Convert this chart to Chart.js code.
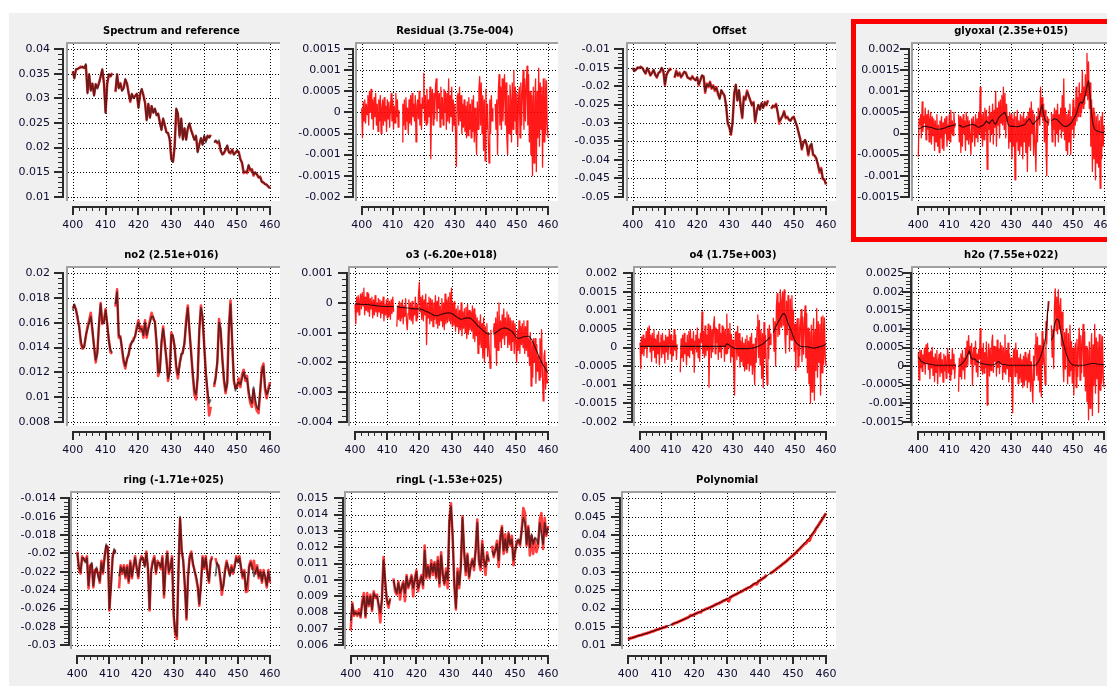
<!DOCTYPE html>
<html><head><meta charset="utf-8">
<script src="https://cdn.jsdelivr.net/npm/chart.js"></script>
<style>
html,body{margin:0;padding:0;width:1107px;height:686px;overflow:hidden;background:#ffffff;}
#bg{position:absolute;left:9px;top:13px;width:1098px;height:673px;background:#f0f0f0;}
canvas{position:absolute;z-index:1;}
#sel{position:absolute;left:851px;top:19px;width:270px;height:223px;border:5px solid #ff0000;box-sizing:border-box;z-index:5;}
</style></head><body>
<div id="bg"></div>
<div id="sel"></div>
<script>
// ---------- wavelength grids (nm) ----------
const WL_HALF = Array.from({length:121}, (_, i) => 400 + i * 0.5);
const WL_QUARTER = Array.from({length:241}, (_, i) => 400 + i * 0.25);
const WL_ONE = Array.from({length:61}, (_, i) => 400 + i);
const X_TICKS = [400, 410, 420, 430, 440, 450, 460];

// ---------- tick values (also used as tick labels) ----------
const TICKS_SPECTRUM = [0.01, 0.015, 0.02, 0.025, 0.03, 0.035, 0.04];
const TICKS_RESIDUAL = [-0.002, -0.0015, -0.001, -0.0005, 0, 0.0005, 0.001, 0.0015];
const TICKS_OFFSET = [-0.05, -0.045, -0.04, -0.035, -0.03, -0.025, -0.02, -0.015, -0.01];
const TICKS_GLYOXAL = [-0.0015, -0.001, -0.0005, 0, 0.0005, 0.001, 0.0015, 0.002];
const TICKS_NO2 = [0.008, 0.01, 0.012, 0.014, 0.016, 0.018, 0.02];
const TICKS_O3 = [-0.004, -0.003, -0.002, -0.001, 0, 0.001];
const TICKS_O4 = [-0.002, -0.0015, -0.001, -0.0005, 0, 0.0005, 0.001, 0.0015, 0.002];
const TICKS_H2O = [-0.0015, -0.001, -0.0005, 0, 0.0005, 0.001, 0.0015, 0.002, 0.0025];
const TICKS_RING = [-0.03, -0.028, -0.026, -0.024, -0.022, -0.02, -0.018, -0.016, -0.014];
const TICKS_RINGL = [0.006, 0.007, 0.008, 0.009, 0.01, 0.011, 0.012, 0.013, 0.014, 0.015];
const TICKS_POLY = [0.01, 0.015, 0.02, 0.025, 0.03, 0.035, 0.04, 0.045, 0.05];

// ---------- series (0.5 nm grid unless noted) ----------
const spectrumMeasured = [
 .0355,.0342,.0358,.036,.0362,.0365,.0363,.0362,.0368,.0312,.0348,.0318,.033,.0307,.0328,.0322,.0332,.0345,.0358,.0332,
 .0272,.033,.0348,.0345,.0352,null,.0313,.0348,.0322,.0331,.0317,.0322,.0338,.0331,.0312,.0293,.0308,.0302,.0305,.0309,
 .0282,.0308,.0318,.0307,.0292,.0257,.0288,.0262,.0284,.0272,.0278,.0267,.0268,.0252,.0237,.0258,.0246,.0232,.0229,.0218,
 .0177,.0172,.0202,.0278,.0268,.0225,.0258,.0218,.0238,.0217,.0238,.0248,.0236,.0227,.0217,.0223,.0192,.0207,.0218,.0207,
 .0222,.0215,.0223,.0221,.0226,null,.0212,.0213,.0209,.021,.0193,.0187,.0188,.0196,.0203,.0191,.0188,.0196,.0187,.0189,
 .0193,.0191,.0177,.0168,.0148,.0151,.0148,.0163,.0153,.0156,.0143,.0149,.0146,.0139,.0141,.0131,.0128,.0126,.0124,.0121,
 .0117];
const spectrumReference = [
 .0355,.034,.036,.036,.0362,.0363,.0365,.0362,.037,.031,.035,.0315,.033,.0305,.033,.032,.033,.0345,.036,.033,
 .027,.033,.035,.0345,.035,null,.0315,.035,.032,.033,.0315,.032,.034,.033,.031,.0295,.031,.030,.0305,.031,
 .028,.031,.032,.0305,.029,.0255,.029,.026,.0285,.027,.028,.0265,.027,.025,.0235,.026,.0245,.023,.023,.0215,
 .0175,.017,.020,.028,.027,.022,.026,.0215,.024,.0215,.024,.025,.0235,.0225,.0215,.0225,.019,.0205,.022,.0205,
 .0225,.021,.0225,.022,.0225,null,.021,.0215,.021,.0215,.0195,.0185,.019,.0195,.0205,.019,.019,.0195,.0185,.019,
 .0195,.019,.0175,.017,.015,.015,.015,.0165,.0155,.0155,.0145,.015,.0145,.014,.014,.013,.013,.0125,.0125,.012,
 .0118];

// residual, 0.25 nm grid
const residual = [
 10e-5,-60e-5,25e-5,-20e-5, 30e-5,-25e-5,20e-5,-5e-5, 40e-5,-30e-5,50e-5,0, 55e-5,-15e-5,30e-5,-40e-5, 35e-5,-10e-5,45e-5,-30e-5,
 20e-5,-45e-5,30e-5,-20e-5, 40e-5,-50e-5,10e-5,30e-5, -30e-5,35e-5,-20e-5,15e-5, -45e-5,30e-5,-15e-5,25e-5, -35e-5,10e-5,45e-5,-20e-5,
 30e-5,-40e-5,15e-5,-25e-5, 45e-5,-10e-5,30e-5,-35e-5, 5e-5,null,null,null, -70e-5,20e-5,-30e-5,30e-5, -40e-5,35e-5,-20e-5,10e-5,
 -50e-5,30e-5,-25e-5,40e-5, -30e-5,45e-5,-10e-5,20e-5, -20e-5,40e-5,-70e-5,15e-5, 30e-5,-15e-5,50e-5,-30e-5, 20e-5,-40e-5,35e-5,10e-5,
 93e-5,-20e-5,40e-5,-30e-5, 55e-5,-25e-5,30e-5,-10e-5, 60e-5,-110e-5,20e-5,55e-5, -30e-5,45e-5,-15e-5,60e-5, 80e-5,-20e-5,50e-5,10e-5,
 45e-5,-35e-5,60e-5,-15e-5, 35e-5,-30e-5,55e-5,0, 50e-5,-40e-5,45e-5,-20e-5, 80e-5,-25e-5,40e-5,-10e-5, 60e-5,-45e-5,30e-5,-30e-5,
 20e-5,-60e-5,-128e-5,40e-5, 45e-5,-30e-5,60e-5,-20e-5, 40e-5,-50e-5,20e-5,-35e-5, 30e-5,-45e-5,15e-5,-60e-5, 25e-5,-55e-5,35e-5,-40e-5,
 20e-5,-60e-5,30e-5,-45e-5, 40e-5,-70e-5,10e-5,-50e-5, -100e-5,25e-5,-40e-5,55e-5, 85e-5,-30e-5,70e-5,-50e-5, 40e-5,-90e-5,30e-5,-115e-5,
 55e-5,-40e-5,20e-5,-60e-5, -120e-5,30e-5,-50e-5,40e-5, -20e-5,10e-5,null,null, 20e-5,-40e-5,30e-5,-100e-5, 50e-5,90e-5,-30e-5,60e-5,
 -40e-5,80e-5,-20e-5,50e-5, 90e-5,-30e-5,70e-5,-60e-5, -100e-5,40e-5,-50e-5,65e-5, 30e-5,-70e-5,70e-5,-40e-5, 100e-5,-20e-5,60e-5,-50e-5,
 45e-5,-80e-5,30e-5,60e-5, -60e-5,70e-5,-30e-5,50e-5, 100e-5,-40e-5,80e-5,-20e-5, 60e-5,110e-5,-30e-5,90e-5, -70e-5,50e-5,-100e-5,40e-5,
 -150e-5,60e-5,-120e-5,30e-5, 80e-5,-140e-5,50e-5,-60e-5, 105e-5,-80e-5,70e-5,-40e-5, 60e-5,-130e-5,80e-5,-70e-5, 80e-5,-50e-5,75e-5,-30e-5,
 -60e-5];

const offsetMeasured = [
 -.0152,-.0158,-.0156,-.0149,-.0151,-.0147,-.0151,-.0158,-.0166,-.0152,-.0159,-.0171,-.0163,-.0157,-.0169,-.0177,-.0164,-.0162,-.0151,-.0158,
 -.0197,-.0169,-.0161,-.0153,-.0157,null,-.0178,-.0158,-.0172,-.0163,-.0176,-.0168,-.0162,-.0163,-.0177,-.0178,-.0182,-.0173,-.0181,-.0183,
 -.0177,-.0198,-.0183,-.0172,-.0173,-.0218,-.0193,-.0203,-.0188,-.0207,-.0198,-.0213,-.0203,-.0223,-.0233,-.0212,-.0218,-.0227,-.0252,-.0302,
 -.0312,-.0332,-.0298,-.0222,-.0197,-.0238,-.0212,-.0252,-.0287,-.0228,-.0237,-.0212,-.0227,-.0238,-.0252,-.0243,-.0298,-.0268,-.0252,-.0263,
 -.0247,-.0258,-.0243,-.0252,-.0238,null,-.0262,-.0253,-.0257,-.0248,-.0272,-.0302,-.0288,-.0282,-.0268,-.0287,-.0283,-.0292,-.0293,-.0287,
 -.0283,-.0297,-.0308,-.0327,-.0343,-.0372,-.0352,-.0347,-.0358,-.0388,-.0362,-.0358,-.0387,-.0388,-.0398,-.0412,-.0435,-.0422,-.0452,-.0453,
 -.0467];
const offsetFitted = [
 -.015,-.016,-.0155,-.015,-.015,-.0148,-.015,-.016,-.0165,-.015,-.016,-.017,-.0165,-.0155,-.017,-.0175,-.0165,-.016,-.015,-.016,
 -.0195,-.017,-.016,-.0155,-.0155,null,-.0175,-.016,-.017,-.0165,-.0175,-.017,-.016,-.0165,-.0175,-.018,-.018,-.0175,-.018,-.0185,
 -.0175,-.0195,-.0185,-.017,-.0175,-.0215,-.0195,-.020,-.019,-.0205,-.020,-.021,-.0205,-.022,-.0235,-.021,-.022,-.0225,-.0255,-.030,
 -.031,-.033,-.030,-.022,-.0195,-.024,-.021,-.0255,-.0285,-.023,-.0235,-.0215,-.0225,-.024,-.025,-.0245,-.0295,-.027,-.025,-.0265,
 -.0245,-.026,-.0245,-.025,-.024,null,-.026,-.0255,-.0255,-.025,-.027,-.0295,-.029,-.028,-.027,-.0285,-.0285,-.029,-.0295,-.0285,
 -.0285,-.0295,-.031,-.0325,-.0345,-.037,-.0355,-.0345,-.036,-.0385,-.0365,-.0355,-.0385,-.039,-.0395,-.0415,-.043,-.0425,-.045,-.0455,
 -.0465];

// glyoxal measured, 0.25 nm grid
const glyoxalMeasured = [
 -55e-5,35e-5,20e-5,45e-5, -10e-5,75e-5,5e-5,40e-5, 25e-5,60e-5,-15e-5,45e-5, 10e-5,55e-5,-20e-5,35e-5, 50e-5,-25e-5,40e-5,-5e-5,
 35e-5,-40e-5,30e-5,-20e-5, 45e-5,-30e-5,20e-5,-45e-5, 30e-5,-10e-5,40e-5,-35e-5, 25e-5,-40e-5,35e-5,0, 40e-5,-30e-5,20e-5,-15e-5,
 45e-5,-20e-5,55e-5,0, 30e-5,-5e-5,50e-5,15e-5, 25e-5,null,null,null, 45e-5,-20e-5,40e-5,-45e-5, 35e-5,-30e-5,45e-5,0,
 30e-5,-40e-5,50e-5,-15e-5, 40e-5,-25e-5,30e-5,-10e-5, -50e-5,35e-5,-20e-5,40e-5, 20e-5,-30e-5,45e-5,-10e-5, 35e-5,-20e-5,50e-5,0,
 110e-5,-10e-5,45e-5,-30e-5, 50e-5,-15e-5,60e-5,5e-5, 55e-5,-85e-5,40e-5,10e-5, 65e-5,-20e-5,50e-5,0, 70e-5,-25e-5,55e-5,15e-5,
 100e-5,-30e-5,60e-5,20e-5, 75e-5,-10e-5,80e-5,25e-5, 90e-5,20e-5,110e-5,10e-5, 95e-5,-10e-5,70e-5,30e-5, 40e-5,-35e-5,50e-5,-20e-5,
 45e-5,-60e-5,35e-5,-30e-5, 50e-5,-110e-5,40e-5,-20e-5, 55e-5,-40e-5,30e-5,-50e-5, 45e-5,-30e-5,40e-5,-60e-5, 50e-5,-20e-5,35e-5,-45e-5,
 40e-5,-90e-5,50e-5,-30e-5, 60e-5,-40e-5,75e-5,0, 55e-5,-50e-5,45e-5,-30e-5, -90e-5,40e-5,-20e-5,60e-5, 50e-5,20e-5,110e-5,40e-5,
 85e-5,30e-5,70e-5,-20e-5, 55e-5,-30e-5,-100e-5,40e-5, 20e-5,35e-5,null,null, 50e-5,-20e-5,45e-5,10e-5, 60e-5,-30e-5,55e-5,0,
 70e-5,-20e-5,45e-5,10e-5, 60e-5,-10e-5,90e-5,5e-5, 130e-5,-15e-5,60e-5,-40e-5, 45e-5,-50e-5,55e-5,-20e-5, 70e-5,-50e-5,40e-5,10e-5,
 80e-5,-10e-5,60e-5,20e-5, 110e-5,30e-5,85e-5,40e-5, 120e-5,40e-5,95e-5,50e-5, 150e-5,60e-5,110e-5,70e-5, 140e-5,90e-5,190e-5,80e-5,
 170e-5,60e-5,120e-5,-30e-5, 80e-5,-90e-5,60e-5,-60e-5, 50e-5,-110e-5,40e-5,-70e-5, 45e-5,-80e-5,30e-5,-130e-5, 40e-5,-60e-5,50e-5,-30e-5,
 20e-5];
const glyoxalFitted = [
 10e-5,12e-5,14e-5,16e-5,17e-5,17e-5,16e-5,15e-5,15e-5,14e-5,12e-5,11e-5,10e-5,10e-5,10e-5,11e-5,12e-5,13e-5,14e-5,16e-5,
 17e-5,18e-5,19e-5,20e-5,20e-5,null,20e-5,19e-5,16e-5,15e-5,16e-5,18e-5,19e-5,20e-5,21e-5,22e-5,21e-5,19e-5,16e-5,15e-5,
 16e-5,18e-5,20e-5,24e-5,30e-5,26e-5,24e-5,30e-5,33e-5,25e-5,22e-5,30e-5,38e-5,42e-5,45e-5,48e-5,50e-5,40e-5,22e-5,18e-5,
 17e-5,17e-5,17e-5,16e-5,16e-5,17e-5,18e-5,19e-5,20e-5,22e-5,28e-5,32e-5,35e-5,28e-5,22e-5,25e-5,30e-5,33e-5,36e-5,55e-5,
 68e-5,45e-5,32e-5,28e-5,25e-5,null,30e-5,33e-5,35e-5,34e-5,32e-5,28e-5,24e-5,20e-5,18e-5,17e-5,17e-5,19e-5,22e-5,26e-5,
 32e-5,38e-5,45e-5,58e-5,70e-5,75e-5,72e-5,80e-5,95e-5,112e-5,125e-5,90e-5,45e-5,20e-5,10e-5,7e-5,5e-5,4e-5,3e-5,3e-5,
 2e-5];

const no2Measured = [
 .0172,.0174,.0171,.0163,.0157,.0143,.0139,.0141,.0149,.0157,.0162,.0168,.0153,.0141,.0128,.0137,.0158,.0176,.0159,.0162,
 .0171,.0158,.0146,.0136,.0135,null,.0173,.0187,.0148,.0149,.0138,.0128,.0123,.0131,.0134,.0142,.0144,.0147,.0149,.0157,
 .0162,.0153,.0157,.0148,.0162,.0148,.0156,.0162,.0168,.0163,.0161,.0143,.0117,.0122,.0143,.0157,.0143,.0131,.0113,.0122,
 .0152,.0148,.0141,.0123,.0115,.0127,.0133,.0137,.0143,.0162,.0174,.0153,.0137,.0118,.0102,.0098,.0117,.0153,.0174,.0163,
 .0142,.0118,.0103,.0085,.0092,null,.0108,.0117,.0128,.0163,.0153,.0132,.0113,.0103,.0112,.0158,.0178,.0143,.0113,.0107,
 .0108,.0115,.0108,.0118,.0122,.0113,.0117,.0103,.0095,.0092,.0106,.0094,.0089,.0087,.0103,.0123,.0127,.0106,.0099,.0107,
 .0112];
const no2Fitted = [
 .017,.0175,.017,.0165,.0155,.0145,.014,.014,.015,.0155,.016,.0165,.0155,.014,.013,.0135,.016,.0175,.016,.016,
 .017,.016,.0145,.0138,.0136,null,.0175,.0185,.015,.0148,.014,.013,.0125,.013,.0135,.014,.0145,.0145,.015,.0155,
 .016,.0155,.0155,.015,.016,.015,.0155,.016,.0165,.0165,.016,.0145,.012,.012,.0145,.0155,.0145,.013,.0115,.012,
 .015,.015,.014,.0125,.0118,.0125,.0135,.0135,.0145,.016,.0172,.0155,.0135,.012,.0105,.0102,.0115,.0155,.0172,.0165,
 .014,.012,.0105,.0095,.0098,null,.011,.0115,.013,.016,.0155,.013,.0115,.0105,.011,.0155,.0175,.0145,.0115,.0105,
 .011,.0112,.011,.0115,.012,.0115,.0115,.0105,.0098,.0095,.0108,.0098,.0092,.009,.0105,.012,.0125,.0108,.0102,.0105,
 .011];

// o3 measured, 0.25 nm grid
const o3Measured = [
 -5e-5,-70e-5,20e-5,-30e-5, 25e-5,-40e-5,10e-5,30e-5, -20e-5,35e-5,-10e-5,50e-5, -40e-5,20e-5,-25e-5,35e-5, -30e-5,30e-5,-45e-5,15e-5,
 -20e-5,20e-5,-50e-5,10e-5, -40e-5,25e-5,-30e-5,0, -45e-5,15e-5,-30e-5,10e-5, -50e-5,5e-5,-35e-5,20e-5, -60e-5,-5e-5,-40e-5,10e-5,
 -50e-5,15e-5,-45e-5,5e-5, -55e-5,10e-5,-35e-5,20e-5, -30e-5,null,null,null, -80e-5,-10e-5,-55e-5,5e-5, -60e-5,0,-50e-5,10e-5,
 -70e-5,-10e-5,-45e-5,15e-5, -60e-5,-90e-5,-35e-5,10e-5, -55e-5,0,-60e-5,5e-5, -70e-5,-15e-5,-40e-5,20e-5, -60e-5,-5e-5,-50e-5,30e-5,
 70e-5,-30e-5,20e-5,-55e-5, 25e-5,-60e-5,10e-5,-40e-5, 30e-5,-140e-5,0,-50e-5, 20e-5,-70e-5,15e-5,-60e-5, 10e-5,-80e-5,0,-55e-5,
 25e-5,-70e-5,5e-5,-85e-5, 20e-5,-75e-5,-10e-5,-60e-5, 15e-5,-80e-5,0,-90e-5, 30e-5,-70e-5,10e-5,-65e-5, 20e-5,-60e-5,35e-5,-70e-5,
 50e-5,-80e-5,0,-75e-5, 5e-5,-95e-5,-20e-5,-80e-5, -10e-5,-100e-5,-25e-5,-90e-5, 0,-110e-5,-30e-5,-85e-5, -20e-5,-100e-5,-15e-5,-120e-5,
 -5e-5,-105e-5,-25e-5,-90e-5, -30e-5,-95e-5,-10e-5,-120e-5, -20e-5,-130e-5,-40e-5,-110e-5, -50e-5,-170e-5,-60e-5,-140e-5, -40e-5,-150e-5,-70e-5,-185e-5,
 -50e-5,-200e-5,-80e-5,-150e-5, -70e-5,-180e-5,-100e-5,-160e-5, -220e-5,-90e-5,null,null, -100e-5,-70e-5,-150e-5,-50e-5, -210e-5,-30e-5,-160e-5,0,
 -130e-5,-60e-5,-150e-5,-40e-5, -120e-5,-20e-5,-140e-5,-50e-5, -110e-5,-30e-5,-150e-5,-40e-5, -140e-5,-50e-5,-160e-5,-60e-5, -130e-5,-60e-5,-170e-5,-70e-5,
 -70e-5,-200e-5,-90e-5,-160e-5, -60e-5,-170e-5,-80e-5,-140e-5, -70e-5,-150e-5,-60e-5,-170e-5, -80e-5,-160e-5,-60e-5,-180e-5, -120e-5,-210e-5,-100e-5,-280e-5,
 -130e-5,-250e-5,-120e-5,-200e-5, -120e-5,-270e-5,-140e-5,-230e-5, -180e-5,-260e-5,-120e-5,-250e-5, -90e-5,-230e-5,-330e-5,-180e-5, -160e-5,-290e-5,-200e-5,-270e-5,
 -260e-5];
const o3Fitted = [
 -3e-5,-3e-5,-4e-5,-4e-5,-5e-5,-5e-5,-5e-5,-5e-5,-5e-5,-6e-5,-7e-5,-8e-5,-8e-5,-9e-5,-10e-5,-10e-5,-11e-5,-11e-5,-12e-5,-12e-5,
 -12e-5,-12e-5,-12e-5,-12e-5,-12e-5,null,-12e-5,-13e-5,-14e-5,-15e-5,-15e-5,-16e-5,-17e-5,-17e-5,-18e-5,-19e-5,-19e-5,-20e-5,-20e-5,-20e-5,
 -20e-5,-21e-5,-22e-5,-25e-5,-28e-5,-30e-5,-32e-5,-35e-5,-38e-5,-41e-5,-43e-5,-43e-5,-42e-5,-40e-5,-38e-5,-36e-5,-35e-5,-34e-5,-33e-5,-34e-5,
 -35e-5,-38e-5,-42e-5,-46e-5,-50e-5,-53e-5,-55e-5,-54e-5,-52e-5,-51e-5,-50e-5,-51e-5,-52e-5,-57e-5,-62e-5,-68e-5,-75e-5,-80e-5,-85e-5,-90e-5,
 -95e-5,-99e-5,-103e-5,-104e-5,-105e-5,null,-105e-5,-102e-5,-98e-5,-94e-5,-90e-5,-87e-5,-85e-5,-84e-5,-85e-5,-87e-5,-90e-5,-94e-5,-98e-5,-106e-5,
 -115e-5,-118e-5,-120e-5,-118e-5,-115e-5,-114e-5,-113e-5,-112e-5,-112e-5,-117e-5,-125e-5,-137e-5,-150e-5,-162e-5,-175e-5,-188e-5,-200e-5,-209e-5,-218e-5,-227e-5,
 -235e-5];

// o4 measured, 0.25 nm grid
const o4Measured = [
 13e-5,-57e-5,28e-5,-17e-5, 33e-5,-22e-5,23e-5,-2e-5, 43e-5,-27e-5,53e-5,3e-5, 58e-5,-12e-5,33e-5,-37e-5, 38e-5,-7e-5,48e-5,-27e-5,
 23e-5,-42e-5,33e-5,-17e-5, 43e-5,-47e-5,13e-5,33e-5, -27e-5,38e-5,-17e-5,18e-5, -42e-5,33e-5,-12e-5,28e-5, -32e-5,13e-5,48e-5,-17e-5,
 33e-5,-37e-5,18e-5,-22e-5, 48e-5,-7e-5,33e-5,-32e-5, 8e-5,null,null,null, -67e-5,23e-5,-27e-5,33e-5, -37e-5,38e-5,-17e-5,13e-5,
 -47e-5,33e-5,-22e-5,43e-5, -27e-5,48e-5,-7e-5,23e-5, -17e-5,43e-5,-67e-5,18e-5, 33e-5,-12e-5,53e-5,-27e-5, 23e-5,-37e-5,38e-5,13e-5,
 96e-5,-17e-5,43e-5,-27e-5, 58e-5,-22e-5,33e-5,-7e-5, 63e-5,-107e-5,23e-5,58e-5, -27e-5,48e-5,-12e-5,63e-5, 83e-5,-17e-5,53e-5,13e-5,
 48e-5,-32e-5,63e-5,-12e-5, 38e-5,-27e-5,58e-5,3e-5, 53e-5,-37e-5,48e-5,-17e-5, 90e-5,-15e-5,50e-5,0, 65e-5,-40e-5,35e-5,-25e-5,
 20e-5,-60e-5,-128e-5,40e-5, 42e-5,-33e-5,57e-5,-23e-5, 37e-5,-53e-5,17e-5,-38e-5, 27e-5,-48e-5,12e-5,-63e-5, 22e-5,-58e-5,32e-5,-43e-5,
 17e-5,-63e-5,27e-5,-48e-5, 38e-5,-72e-5,9e-5,-51e-5, -100e-5,25e-5,-40e-5,55e-5, 88e-5,-27e-5,73e-5,-47e-5, 47e-5,-83e-5,37e-5,-108e-5,
 67e-5,-28e-5,32e-5,-48e-5, -100e-5,50e-5,-30e-5,60e-5, 8e-5,38e-5,null,null, 80e-5,-10e-5,70e-5,-50e-5, 110e-5,145e-5,30e-5,120e-5,
 35e-5,155e-5,55e-5,125e-5, 150e-5,60e-5,155e-5,30e-5, -15e-5,125e-5,35e-5,140e-5, 90e-5,-10e-5,130e-5,20e-5, 140e-5,20e-5,100e-5,-10e-5,
 63e-5,-62e-5,48e-5,78e-5, -52e-5,78e-5,-22e-5,58e-5, 102e-5,-38e-5,82e-5,-18e-5, 62e-5,112e-5,-28e-5,92e-5, -68e-5,52e-5,-98e-5,42e-5,
 -150e-5,60e-5,-120e-5,30e-5, 78e-5,-142e-5,48e-5,-62e-5, 105e-5,-80e-5,70e-5,-40e-5, 62e-5,-128e-5,82e-5,-68e-5, 85e-5,-45e-5,80e-5,-25e-5,
 -50e-5];
const o4Fitted = [
 3e-5,3e-5,3e-5,3e-5,3e-5,3e-5,3e-5,3e-5,3e-5,3e-5,3e-5,3e-5,3e-5,3e-5,3e-5,3e-5,3e-5,3e-5,3e-5,3e-5,
 3e-5,3e-5,3e-5,3e-5,3e-5,null,3e-5,3e-5,3e-5,3e-5,3e-5,3e-5,3e-5,3e-5,3e-5,3e-5,3e-5,3e-5,3e-5,3e-5,
 3e-5,3e-5,3e-5,3e-5,3e-5,3e-5,3e-5,3e-5,3e-5,3e-5,3e-5,3e-5,3e-5,3e-5,3e-5,3e-5,10e-5,8e-5,5e-5,2e-5,
 0,-2e-5,-3e-5,-3e-5,-3e-5,-3e-5,-3e-5,-3e-5,-3e-5,-3e-5,-3e-5,-2e-5,-2e-5,-1e-5,0,1e-5,3e-5,5e-5,7e-5,9e-5,
 12e-5,16e-5,20e-5,24e-5,28e-5,null,40e-5,50e-5,60e-5,68e-5,75e-5,83e-5,90e-5,92e-5,85e-5,72e-5,60e-5,50e-5,40e-5,28e-5,
 18e-5,12e-5,8e-5,5e-5,3e-5,2e-5,2e-5,2e-5,2e-5,1e-5,0,-1e-5,-2e-5,-1e-5,0,1e-5,2e-5,3e-5,5e-5,7e-5,
 10e-5];

// h2o measured, 0.25 nm grid
const h2oMeasured = [
 35e-5,-38e-5,43e-5,-5e-5, 42e-5,-14e-5,30e-5,4e-5, 48e-5,-22e-5,57e-5,7e-5, 61e-5,-9e-5,36e-5,-34e-5, 40e-5,-5e-5,50e-5,-25e-5,
 23e-5,-42e-5,33e-5,-17e-5, 42e-5,-48e-5,12e-5,32e-5, -28e-5,37e-5,-18e-5,17e-5, -43e-5,32e-5,-13e-5,27e-5, -33e-5,12e-5,47e-5,-18e-5,
 32e-5,-38e-5,17e-5,-23e-5, 47e-5,-8e-5,32e-5,-33e-5, 6e-5,null,null,null, -69e-5,21e-5,-28e-5,33e-5, -35e-5,42e-5,-10e-5,22e-5,
 -35e-5,48e-5,-3e-5,67e-5, 2e-5,82e-5,32e-5,53e-5, 5e-5,61e-5,-52e-5,34e-5, 50e-5,3e-5,67e-5,-16e-5, 32e-5,-29e-5,45e-5,19e-5,
 101e-5,-12e-5,48e-5,-22e-5, 61e-5,-19e-5,36e-5,-4e-5, 65e-5,-105e-5,25e-5,60e-5, -27e-5,48e-5,-12e-5,63e-5, 83e-5,-17e-5,53e-5,13e-5,
 51e-5,-27e-5,70e-5,-4e-5, 47e-5,-20e-5,63e-5,6e-5, 55e-5,-36e-5,49e-5,-16e-5, 84e-5,-22e-5,43e-5,-7e-5, 62e-5,-43e-5,32e-5,-28e-5,
 22e-5,-58e-5,-126e-5,42e-5, 47e-5,-28e-5,62e-5,-18e-5, 42e-5,-48e-5,22e-5,-33e-5, 32e-5,-43e-5,17e-5,-58e-5, 27e-5,-53e-5,37e-5,-38e-5,
 22e-5,-58e-5,32e-5,-43e-5, 42e-5,-68e-5,12e-5,-48e-5, -98e-5,27e-5,-38e-5,57e-5, 88e-5,-25e-5,78e-5,-38e-5, 55e-5,-70e-5,55e-5,-83e-5,
 93e-5,5e-5,72e-5,0, -50e-5,120e-5,60e-5,150e-5, 150e-5,175e-5,null,null, 110e-5,24e-5,98e-5,-6e-5, 160e-5,208e-5,95e-5,186e-5,
 87e-5,205e-5,100e-5,156e-5, 182e-5,54e-5,145e-5,6e-5, -42e-5,90e-5,-8e-5,100e-5, 58e-5,-48e-5,87e-5,-27e-5, 110e-5,-12e-5,66e-5,-46e-5,
 48e-5,-78e-5,32e-5,62e-5, -58e-5,72e-5,-28e-5,52e-5, 102e-5,-38e-5,82e-5,-18e-5, 62e-5,112e-5,-28e-5,92e-5, -67e-5,53e-5,-96e-5,44e-5,
 -145e-5,65e-5,-114e-5,36e-5, 87e-5,-133e-5,57e-5,-53e-5, 112e-5,-73e-5,76e-5,-34e-5, 65e-5,-125e-5,85e-5,-65e-5, 84e-5,-46e-5,79e-5,-26e-5,
 -57e-5];
const h2oFitted = [
 25e-5,18e-5,12e-5,10e-5,8e-5,7e-5,6e-5,5e-5,5e-5,4e-5,3e-5,2e-5,2e-5,2e-5,2e-5,2e-5,2e-5,2e-5,2e-5,2e-5,
 2e-5,2e-5,2e-5,2e-5,1e-5,null,1e-5,2e-5,5e-5,10e-5,15e-5,22e-5,32e-5,42e-5,25e-5,18e-5,20e-5,17e-5,12e-5,10e-5,
 8e-5,7e-5,6e-5,5e-5,5e-5,4e-5,3e-5,3e-5,3e-5,4e-5,6e-5,10e-5,12e-5,8e-5,5e-5,4e-5,4e-5,3e-5,2e-5,2e-5,
 2e-5,2e-5,2e-5,2e-5,2e-5,2e-5,2e-5,2e-5,2e-5,2e-5,2e-5,2e-5,2e-5,2e-5,2e-5,2e-5,3e-5,8e-5,15e-5,25e-5,
 38e-5,52e-5,70e-5,110e-5,175e-5,null,70e-5,78e-5,110e-5,125e-5,127e-5,120e-5,92e-5,75e-5,58e-5,42e-5,28e-5,17e-5,10e-5,6e-5,
 3e-5,2e-5,2e-5,2e-5,2e-5,2e-5,2e-5,2e-5,3e-5,4e-5,5e-5,6e-5,7e-5,7e-5,7e-5,6e-5,5e-5,5e-5,4e-5,4e-5,
 3e-5];

const ringMeasured = [
 -.0198,-.0217,-.0222,-.0203,-.0207,-.0208,-.0203,-.0238,-.0213,-.0212,-.0237,-.0218,-.0217,-.0223,-.0232,-.0208,-.0222,-.0203,-.0192,-.0193,
 -.0262,-.0233,-.0203,-.0197,-.0198,null,-.0238,-.0213,-.0222,-.0213,-.0227,-.0213,-.0232,-.0208,-.0227,-.0213,-.0203,-.0217,-.0227,-.0208,
 -.0203,-.0207,-.0213,-.0198,-.0217,-.0262,-.0218,-.0208,-.0203,-.0222,-.0208,-.0212,-.0217,-.0203,-.0248,-.0213,-.0198,-.0222,-.0213,-.0203,
 -.0268,-.0288,-.0293,-.0218,-.0162,-.0197,-.0208,-.0237,-.0272,-.0223,-.0203,-.0198,-.0212,-.0218,-.0227,-.0237,-.0257,-.0233,-.0203,-.0217,
 -.0203,-.0222,-.0232,-.0208,-.0203,null,-.0205,-.0212,-.0213,-.0227,-.0245,-.0233,-.0218,-.0208,-.0217,-.0223,-.0213,-.0222,-.0213,-.0203,
 -.0208,-.0203,-.0217,-.0227,-.0218,-.0242,-.0241,-.0213,-.0208,-.0217,-.0208,-.0222,-.0213,-.0227,-.0218,-.0232,-.0218,-.0227,-.0237,-.0218,
 -.0232];
const ringFitted = [
 -.020,-.0215,-.022,-.0205,-.0205,-.021,-.0205,-.0235,-.0215,-.021,-.0235,-.022,-.0215,-.0225,-.023,-.021,-.022,-.0205,-.019,-.0195,
 -.026,-.0235,-.0205,-.0195,-.020,null,-.0225,-.0215,-.022,-.0215,-.0225,-.0215,-.023,-.021,-.0225,-.0215,-.0205,-.0215,-.0225,-.021,
 -.0205,-.0205,-.0215,-.020,-.0215,-.026,-.022,-.021,-.0205,-.022,-.021,-.021,-.0215,-.0205,-.0245,-.0215,-.020,-.022,-.0215,-.0205,
 -.0265,-.0285,-.029,-.022,-.016,-.0195,-.021,-.0235,-.027,-.0225,-.0205,-.020,-.021,-.022,-.0225,-.0235,-.0255,-.0235,-.0205,-.0215,
 -.0205,-.022,-.023,-.021,-.0205,null,-.0225,-.021,-.0215,-.0225,-.024,-.0235,-.022,-.021,-.0215,-.0225,-.0215,-.022,-.0215,-.0205,
 -.021,-.0205,-.0215,-.0225,-.022,-.024,-.023,-.0215,-.021,-.0215,-.0225,-.022,-.0215,-.0225,-.022,-.023,-.022,-.0225,-.0235,-.022,
 -.023];

const ringLMeasured = [
 .0069,.0086,.0078,.0081,.0078,.0082,.0077,.0087,.0092,.0077,.0092,.0084,.0091,.0081,.0093,.0089,.0091,.0084,.0074,.0089,
 .0114,.0098,.0087,.0083,.0089,null,.0101,.0093,.0091,.0099,.0088,.0096,.0099,.0087,.0103,.0095,.0099,.0103,.0090,.0101,
 .0106,.0093,.0099,.0103,.0095,.0121,.0101,.0109,.0101,.0112,.0103,.0111,.0101,.0114,.0096,.0117,.0103,.0097,.0107,.0095,
 .0137,.0147,.0126,.0097,.0082,.0107,.0095,.0109,.0139,.0117,.0103,.0116,.0101,.0109,.0113,.0106,.0119,.0137,.0111,.0106,
 .0124,.0111,.0103,.0117,.0111,null,.0121,.0114,.0119,.0124,.0108,.0127,.0133,.0116,.0128,.0117,.0129,.0121,.0127,.0109,
 .0117,.0124,.0124,.0121,.0131,.0144,.0141,.0121,.0133,.0115,.0127,.0116,.0125,.0117,.0121,.0137,.0141,.0119,.0138,.0127,
 .0133];
const ringLFitted = [
 .0075,.0085,.0079,.008,.0079,.008,.0078,.0085,.009,.0078,.009,.0085,.009,.0082,.0092,.009,.009,.0085,.008,.0088,
 .0112,.010,.0088,.0085,.0088,null,.010,.0095,.0092,.0098,.0092,.0095,.0098,.0092,.0102,.0096,.0098,.0102,.0095,.010,
 .0105,.0095,.0098,.0102,.0097,.0118,.0102,.0108,.0102,.011,.0105,.011,.0102,.0112,.0098,.0115,.0104,.0098,.0105,.010,
 .0135,.0145,.0128,.0098,.0083,.0105,.0097,.0108,.0138,.0118,.0105,.0115,.0102,.0108,.0112,.0108,.0118,.0135,.0112,.0108,
 .0122,.0112,.0108,.0115,.0112,null,.0118,.0115,.0118,.0122,.0112,.0125,.0132,.0118,.0125,.0118,.0128,.0122,.0125,.0112,
 .0118,.0122,.0125,.0122,.013,.0138,.0135,.0122,.0132,.012,.0128,.0122,.0126,.0125,.0122,.0135,.0128,.0122,.0135,.0128,
 .0132];

const polyMeasured = [
 .0115,.0119,.0120,.0121,.0123,.0124,.0126,.0127,.0128,.0130,.0131,.0132,.0134,.0135,.0137,.0138,.0140,.0142,.0143,.0145,
 .0146,.0148,.0149,.0151,.0152,null,.0156,.0157,.0160,.0161,.0163,.0165,.0167,.0169,.0171,.0173,.0175,.0178,.0182,.0181,
 .0184,.0186,.0188,.0190,.0190,.0195,.0196,.0199,.0200,.0202,.0204,.0206,.0208,.0211,.0213,.0214,.0217,.0219,.0222,.0223,
 .0226,.0220,.0231,.0233,.0236,.0238,.0240,.0243,.0245,.0247,.0250,.0252,.0255,.0257,.0258,.0262,.0266,.0268,.0266,.0274,
 .0277,.0280,.0283,.0286,.0292,null,.0295,.0298,.0301,.0304,.0308,.0311,.0315,.0318,.0322,.0325,.0329,.0333,.0337,.0341,
 .0345,.0349,.0353,.0358,.0362,.0367,.0371,.0376,.0378,.0386,.0385,.0397,.0403,.0409,.0418,.0424,.0431,.0438,.0445,.0452,
 .0459];
// polynomial fit, 1 nm grid
const polyFitted = [
 .0117,.0120,.0123,.0126,.0128,.0131,.0134,.0137,.0140,.0143,
 .0146,.0149,.0153,.0156,.0160,.0163,.0167,.0171,.0175,.0180,
 .0184,.0188,.0192,.0196,.0200,.0204,.0208,.0213,.0217,.0222,
 .0226,.0231,.0236,.0240,.0245,.0250,.0255,.0260,.0266,.0271,
 .0277,.0283,.0289,.0295,.0301,.0308,.0315,.0322,.0329,.0337,
 .0345,.0354,.0363,.0373,.0383,.0393,.0405,.0418,.0431,.0445,
 .0459];

// ---------- layout ----------
const ROW_Y = [[49.3, 196.7], [273.3, 421.7], [498.3, 645.3]];
const COL_R = [270, 548, 826, 1104];

const PANELS = [
 {title:'Spectrum and reference', col:0, row:0, plotLeft:72.7, axisGap:9.4, labelGap:22.7, yTicks:TICKS_SPECTRUM, kind:'thick', red:[WL_HALF, spectrumMeasured], dark:[WL_HALF, spectrumReference]},
 {title:'Residual (3.75e-004)', col:1, row:0, plotLeft:361.7, axisGap:9, labelGap:21, yTicks:TICKS_RESIDUAL, kind:'noisy', red:[WL_QUARTER, residual]},
 {title:'Offset', col:2, row:0, plotLeft:632.7, axisGap:9.4, labelGap:22.7, yTicks:TICKS_OFFSET, kind:'thick', red:[WL_HALF, offsetMeasured], dark:[WL_HALF, offsetFitted]},
 {title:'glyoxal (2.35e+015)', col:3, row:0, plotLeft:918.3, axisGap:9.3, labelGap:18.5, yTicks:TICKS_GLYOXAL, kind:'noisy', red:[WL_QUARTER, glyoxalMeasured], dark:[WL_HALF, glyoxalFitted]},
 {title:'no2 (2.51e+016)', col:0, row:1, plotLeft:72.7, axisGap:9.4, labelGap:22.7, yTicks:TICKS_NO2, kind:'thick', red:[WL_HALF, no2Measured], dark:[WL_HALF, no2Fitted]},
 {title:'o3 (-6.20e+018)', col:1, row:1, plotLeft:355, axisGap:8.3, labelGap:22.3, yTicks:TICKS_O3, kind:'noisy', red:[WL_QUARTER, o3Measured], dark:[WL_HALF, o3Fitted]},
 {title:'o4 (1.75e+003)', col:2, row:1, plotLeft:640, axisGap:8.3, labelGap:22.7, yTicks:TICKS_O4, kind:'noisy', red:[WL_QUARTER, o4Measured], dark:[WL_HALF, o4Fitted]},
 {title:'h2o (7.55e+022)', col:3, row:1, plotLeft:918.3, axisGap:7.6, labelGap:14, yTicks:TICKS_H2O, kind:'noisy', red:[WL_QUARTER, h2oMeasured], dark:[WL_HALF, h2oFitted]},
 {title:'ring (-1.71e+025)', col:0, row:2, plotLeft:77.3, axisGap:8, labelGap:21.3, yTicks:TICKS_RING, kind:'thick', red:[WL_HALF, ringMeasured], dark:[WL_HALF, ringFitted]},
 {title:'ringL (-1.53e+025)', col:1, row:2, plotLeft:350.7, axisGap:7.4, labelGap:22.4, yTicks:TICKS_RINGL, kind:'thick', red:[WL_HALF, ringLMeasured], dark:[WL_HALF, ringLFitted]},
 {title:'Polynomial', col:2, row:2, plotLeft:628.3, axisGap:8.3, labelGap:22.3, yTicks:TICKS_POLY, kind:'poly', red:[WL_HALF, polyMeasured], dark:[WL_ONE, polyFitted]}
];

const STYLES = {
 thick: {red:{c:'rgba(255,0,0,0.75)', w:2.6}, dark:{c:'rgba(0,0,0,0.58)', w:1.8}},
 noisy: {red:{c:'rgba(255,0,0,0.9)', w:1.3}, dark:{c:'rgba(0,0,0,0.8)', w:1.1}},
 poly:  {red:{c:'rgba(255,0,0,0.85)', w:3}, dark:{c:'rgba(0,0,0,0.9)', w:1}}
};
const LABEL_FONT = {family:'"DejaVu Sans", sans-serif', size:11};
const LABEL_COLOR = '#0c0c30';

function series(pair) {
  const xs = pair[0], ys = pair[1];
  return ys.map((y, i) => ({x: xs[i], y: y}));
}

function makeDeco(p) {
  function box(chart) {
    const xs = chart.scales.x, ys = chart.scales.y;
    return {xs, ys,
      L: xs.getPixelForValue(400), R: xs.getPixelForValue(460),
      T: ys.getPixelForValue(p.yTicks[p.yTicks.length - 1]), B: ys.getPixelForValue(p.yTicks[0])};
  }
  return {
    id: 'deco',
    beforeDraw(chart) {
      const ctx = chart.ctx; const {xs, ys, L, R, T, B} = box(chart);
      const wl = Math.round(L - 5), wr = Math.round(R + 10), wt = Math.round(T - 5), wb = Math.round(B + 4);
      ctx.save();
      ctx.fillStyle = '#ffffff'; ctx.fillRect(wl, wt, wr - wl, wb - wt);
      ctx.fillStyle = '#a0a0a0';
      ctx.fillRect(wl - 2, wt - 2, wr - wl + 2, 2);
      ctx.fillRect(wl - 2, wt - 2, 2, wb - wt + 2);
      ctx.strokeStyle = '#000000'; ctx.lineWidth = 1; ctx.setLineDash([1, 2]);
      ctx.beginPath();
      p.yTicks.forEach(v => { const y = Math.round(ys.getPixelForValue(v)) + 0.5; ctx.moveTo(wl, y); ctx.lineTo(wr, y); });
      X_TICKS.forEach(v => { const x = Math.round(xs.getPixelForValue(v)) + 0.5; ctx.moveTo(x, wt); ctx.lineTo(x, wb); });
      ctx.stroke();
      ctx.restore();
    },
    afterDraw(chart) {
      const ctx = chart.ctx; const {xs, ys, L, R, T, B} = box(chart);
      ctx.save();
      ctx.fillStyle = '#2b2b2b';
      const ax = Math.round(L - p.axisGap);
      const t = p.yTicks;
      ctx.fillRect(ax - 1, Math.round(T) - 1, 2, Math.round(B) - Math.round(T) + 2);
      for (let i = 0; i < t.length; i++) {
        const y = Math.round(ys.getPixelForValue(t[i]));
        ctx.fillRect(ax - 9, y - 1, 8, 2);
        if (i < t.length - 1) {
          for (let k = 1; k < 5; k++) {
            const ym = Math.round(ys.getPixelForValue(t[i] + (t[i + 1] - t[i]) * k / 5));
            ctx.fillRect(ax - 5, ym, 4, 1);
          }
        }
      }
      const ay = Math.round(B + 10.5);
      ctx.fillRect(Math.round(L) - 1, ay - 1, Math.round(R) - Math.round(L) + 2, 2);
      for (let v = 400; v <= 460; v += 2) {
        const x = Math.round(xs.getPixelForValue(v));
        if (v % 10 === 0) ctx.fillRect(x - 1, ay, 2, 8); else ctx.fillRect(x, ay, 1, 4);
      }
      // x tick labels
      ctx.fillStyle = LABEL_COLOR;
      ctx.font = '11px "DejaVu Sans", sans-serif';
      ctx.textAlign = 'center'; ctx.textBaseline = 'middle';
      X_TICKS.forEach(v => ctx.fillText(String(v), xs.getPixelForValue(v), B + 28.5));
      // title
      ctx.fillStyle = '#000000';
      ctx.font = 'bold 10px "DejaVu Sans", sans-serif';
      ctx.fillText(p.title, (L + R) / 2, T - 17.5);
      ctx.restore();
    }
  };
}

function makePanel(p) {
  const top = ROW_Y[p.row][0], bottom = ROW_Y[p.row][1];
  const left = p.plotLeft, right = COL_R[p.col];
  const cx = Math.floor(left - 80), cy = Math.floor(top - 36);
  const cw = Math.ceil(right + 16) - cx, ch = Math.ceil(bottom + 40) - cy;
  const cv = document.createElement('canvas');
  cv.width = cw; cv.height = ch;
  cv.style.left = cx + 'px'; cv.style.top = cy + 'px';
  cv.style.width = cw + 'px'; cv.style.height = ch + 'px';
  document.body.appendChild(cv);
  const yW = left - cx, xH = cy + ch - bottom;
  const st = STYLES[p.kind];
  const datasets = [];
  if (p.dark) datasets.push({data: series(p.dark), borderColor: st.dark.c, borderWidth: st.dark.w, order: 0, clip: 6});
  datasets.push({data: series(p.red), borderColor: st.red.c, borderWidth: st.red.w, order: 1, clip: 6});
  new Chart(cv, {
    type: 'line',
    data: {datasets},
    options: {
      responsive: false, animation: false, devicePixelRatio: 1, events: [],
      layout: {padding: {left: 0, top: top - cy, right: cx + cw - right, bottom: 0}},
      plugins: {legend: {display: false}, tooltip: {enabled: false}, title: {display: false}},
      elements: {point: {radius: 0}, line: {tension: 0, borderJoinStyle: 'round', fill: false}},
      scales: {
        x: {type: 'linear', min: 400, max: 460, bounds: 'data',
            afterBuildTicks: s => { s.ticks = X_TICKS.map(v => ({value: v})); },
            afterFit: s => { s.height = xH; s.paddingLeft = 0; s.paddingRight = 0; },
            grid: {display: false, drawTicks: false}, border: {display: false},
            ticks: {display: false}},
        y: {type: 'linear', min: p.yTicks[0], max: p.yTicks[p.yTicks.length - 1], bounds: 'data',
            afterBuildTicks: s => { s.ticks = p.yTicks.map(v => ({value: v})); },
            afterFit: s => { s.width = yW; s.paddingTop = 0; s.paddingBottom = 0; },
            grid: {display: false, drawTicks: false}, border: {display: false},
            ticks: {padding: p.labelGap, font: LABEL_FONT, color: LABEL_COLOR, autoSkip: false, callback: v => String(v)}}
      }
    },
    plugins: [makeDeco(p)]
  });
}

PANELS.forEach(makePanel);
</script>
</body></html>
